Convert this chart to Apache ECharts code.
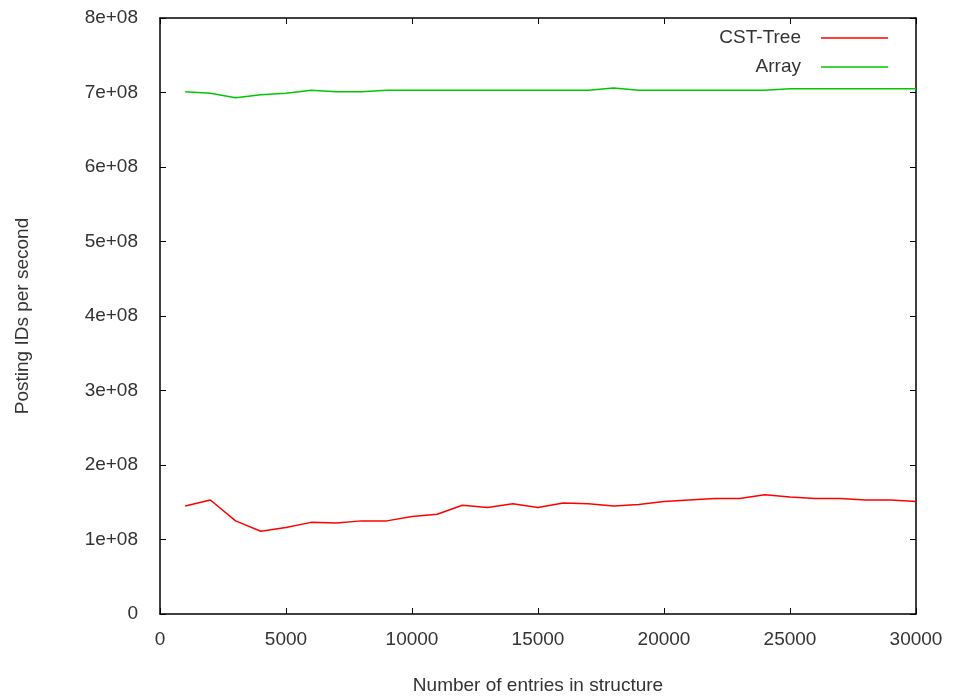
<!DOCTYPE html>
<html><head><meta charset="utf-8">
<script src="https://cdn.jsdelivr.net/npm/echarts@6/dist/echarts.min.js"></script>
<style>html,body{margin:0;padding:0;background:#fff}#c{width:954px;height:700px}</style>
</head><body><div id="c"></div>
<script>
const entries = [1000,2000,3000,4000,5000,6000,7000,8000,9000,10000,11000,12000,13000,14000,15000,16000,17000,18000,19000,20000,21000,22000,23000,24000,25000,26000,27000,28000,29000,30000];
const cstTree = [1.45,1.53,1.25,1.11,1.16,1.23,1.22,1.25,1.25,1.31,1.34,1.46,1.43,1.48,1.43,1.49,1.48,1.45,1.47,1.51,1.53,1.55,1.55,1.60,1.57,1.55,1.55,1.53,1.53,1.51].map(v=>v*1e8);
const arrayVals = [7.01,6.99,6.93,6.97,6.99,7.03,7.01,7.01,7.03,7.03,7.03,7.03,7.03,7.03,7.03,7.03,7.03,7.06,7.03,7.03,7.03,7.03,7.03,7.03,7.05,7.05,7.05,7.05,7.05,7.05].map(v=>v*1e8);
const seriesNames = ['CST-Tree','Array'];
const xTitle = 'Number of entries in structure';
const yTitle = 'Posting IDs per second';

const font = 'Liberation Sans, Arial, sans-serif';
const chart = echarts.init(document.getElementById('c'), null, {renderer:'canvas'});
function tick(){ return {show:true, inside:true, length:6, lineStyle:{color:'#000', width:1}}; }
function line(){ return {show:true, onZero:false, lineStyle:{color:'#000', width:1.5}}; }
const yFmt = v => v === 0 ? '0' : (Math.round(v/1e8)) + 'e+08';
chart.setOption({
  animation:false,
  backgroundColor:'#fff',
  grid:{left:160, right:38, top:18, bottom:86, show:false},
  legend:{
    orient:'vertical', right:61, top:23, align:'right', itemGap:9,
    icon:'rect', itemWidth:67, itemHeight:1.5,
    textStyle:{fontFamily:font, fontSize:19, color:'#333', lineHeight:20, padding:[0,15,0,0]},
    data:seriesNames
  },
  xAxis:[{
    type:'value', min:0, max:30000, interval:5000, position:'bottom',
    name:xTitle, nameLocation:'middle', nameGap:62,
    nameTextStyle:{fontFamily:font, fontSize:19, color:'#333'},
    axisLine:line(), axisTick:tick(), splitLine:{show:false},
    axisLabel:{fontFamily:font, fontSize:19, color:'#333', margin:16, formatter:v=>String(v)}
  },{
    type:'value', min:0, max:30000, interval:5000, position:'top',
    axisLine:line(), axisTick:tick(), splitLine:{show:false}, axisLabel:{show:false}
  }],
  yAxis:[{
    type:'value', min:0, max:8e8, interval:1e8, position:'left',
    name:yTitle, nameLocation:'middle', nameGap:128, nameRotate:90,
    nameTextStyle:{fontFamily:font, fontSize:19, color:'#333'},
    axisLine:line(), axisTick:tick(), splitLine:{show:false},
    axisLabel:{fontFamily:font, fontSize:19, color:'#333', margin:22, formatter:yFmt}
  },{
    type:'value', min:0, max:8e8, interval:1e8, position:'right',
    axisLine:line(), axisTick:tick(), splitLine:{show:false}, axisLabel:{show:false}
  }],
  series:[
    {name:seriesNames[0], type:'line', showSymbol:false, symbol:'none', color:'#ff0000',
     lineStyle:{color:'#ff0000', width:1.5}, data:entries.map((x,i)=>[x,cstTree[i]])},
    {name:seriesNames[1], type:'line', showSymbol:false, symbol:'none', color:'#00c800',
     lineStyle:{color:'#00c800', width:1.5}, data:entries.map((x,i)=>[x,arrayVals[i]])}
  ]
});
</script></body></html>
